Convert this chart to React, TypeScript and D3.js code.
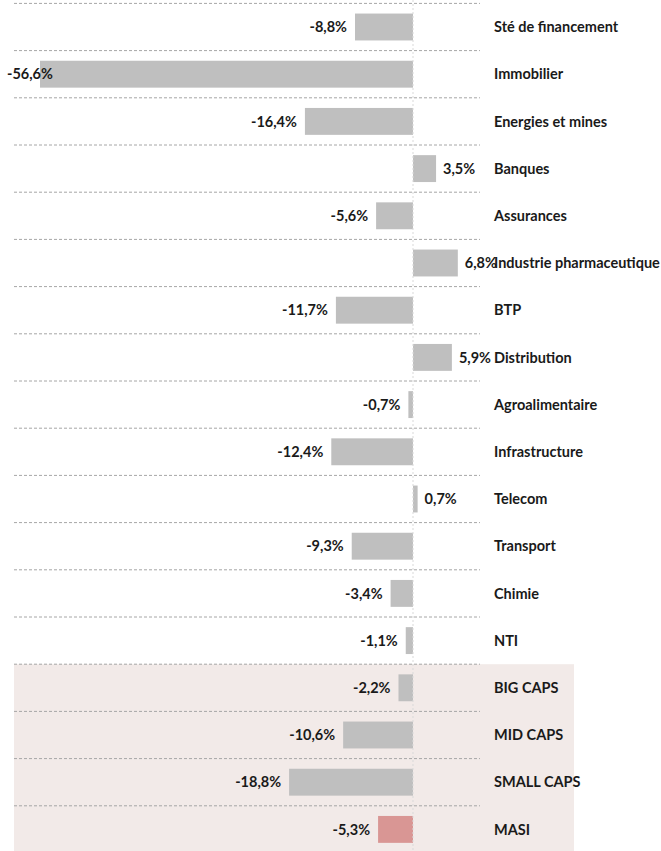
import React from 'react';
import * as d3 from 'd3';

const categories = [
  'Sté de financement', 'Immobilier', 'Energies et mines', 'Banques', 'Assurances',
  'Industrie pharmaceutique', 'BTP', 'Distribution', 'Agroalimentaire', 'Infrastructure',
  'Telecom', 'Transport', 'Chimie', 'NTI', 'BIG CAPS', 'MID CAPS', 'SMALL CAPS', 'MASI'
];
const values = [-8.8, -56.6, -16.4, 3.5, -5.6, 6.8, -11.7, 5.9, -0.7, -12.4, 0.7, -9.3, -3.4, -1.1, -2.2, -10.6, -18.8, -5.3];
const highlighted = ['BIG CAPS', 'MID CAPS', 'SMALL CAPS', 'MASI'];

const W = 661;
const H = 851;
const FONT = "Lato, 'Liberation Sans', sans-serif";

const fmt = (v: number) => v.toFixed(1).replace('.', ',') + '%';

export default function App() {
  const svgRef = React.useRef<SVGSVGElement>(null);

  React.useEffect(() => {
    const svg = d3.select(svgRef.current);
    svg.selectAll('*').remove();

    const x = d3.scaleLinear().domain([-60, 10]).range([17.6, 478.9]);
    const y = d3.scaleBand<string>().domain(categories).range([3.4, 853]).paddingInner(0.43).paddingOuter(0.215);
    const step = y.step();
    const rowTop = (c: string) => y(c)! - (step - y.bandwidth()) / 2;

    // highlighted block behind the cap indices
    const firstHi = rowTop(highlighted[0]);
    svg.append('rect')
      .attr('x', 14).attr('y', firstHi)
      .attr('width', 574 - 14).attr('height', H - firstHi)
      .attr('fill', '#f2eae8');

    // row separators
    svg.append('g').selectAll('line')
      .data(categories)
      .join('line')
      .attr('x1', 14).attr('x2', 480)
      .attr('y1', d => rowTop(d)).attr('y2', d => rowTop(d))
      .attr('stroke', '#a6a6a6').attr('stroke-width', 1)
      .attr('stroke-dasharray', '3,2');

    // bars
    svg.append('g').selectAll('rect')
      .data(categories)
      .join('rect')
      .attr('x', (d, i) => x(Math.min(0, values[i])))
      .attr('y', d => y(d)!)
      .attr('width', (d, i) => Math.abs(x(values[i]) - x(0)))
      .attr('height', y.bandwidth())
      .attr('fill', d => d === 'MASI' ? '#d99694' : '#bfbfbf');

    // zero line
    svg.append('line')
      .attr('x1', x(0)).attr('x2', x(0))
      .attr('y1', 0).attr('y2', H)
      .attr('stroke', '#d9d9d9').attr('stroke-width', 1)
      .attr('stroke-dasharray', '2,2');

    // value labels
    const labels = svg.append('g').selectAll<SVGTextElement, string>('text')
      .data(categories)
      .join('text')
      .attr('x', (d, i) => values[i] < 0 ? x(values[i]) - 8 : x(values[i]) + 7)
      .attr('y', d => y(d)! + y.bandwidth() / 2)
      .attr('dy', '0.36em')
      .attr('text-anchor', (d, i) => values[i] < 0 ? 'end' : 'start')
      .attr('font-family', FONT)
      .attr('font-weight', 'bold')
      .attr('font-size', 14.5)
      .attr('fill', '#1a1a1a')
      .text((d, i) => fmt(values[i]));

    // keep labels inside the drawing area
    labels.each(function () {
      const el = this as SVGTextElement;
      const b = el.getBBox();
      if (b.x < 7) {
        d3.select(el).attr('text-anchor', 'start').attr('x', 7);
      }
    });

    // category labels
    svg.append('g').selectAll('text')
      .data(categories)
      .join('text')
      .attr('x', 494)
      .attr('y', d => y(d)! + y.bandwidth() / 2)
      .attr('dy', '0.36em')
      .attr('font-family', FONT)
      .attr('font-weight', 'bold')
      .attr('font-size', 14.5)
      .attr('fill', '#1a1a1a')
      .text(d => d);
  }, []);

  return (
    <svg ref={svgRef} width={W} height={H}
      style={{ position: 'absolute', left: 0, top: 0, background: '#fff' }} />
  );
}
